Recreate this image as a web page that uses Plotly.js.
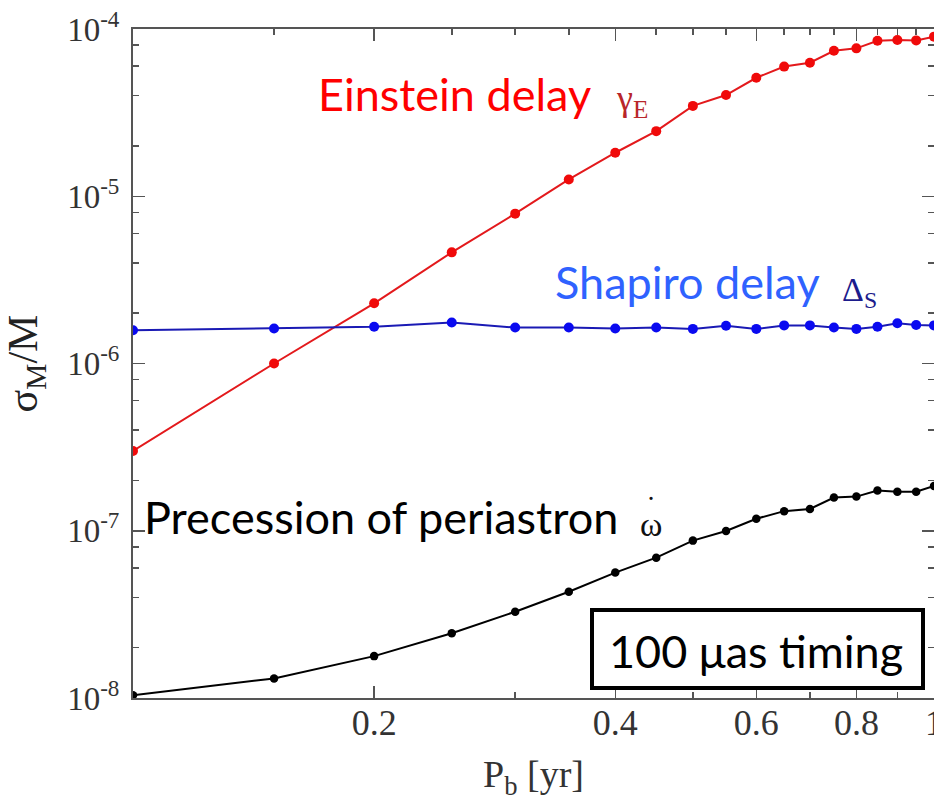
<!DOCTYPE html>
<html>
<head>
<meta charset="utf-8">
<script src="https://cdn.plot.ly/plotly-3.0.1.min.js"></script>
<style>html,body{margin:0;padding:0;background:#fff;}#chart{width:934px;height:801px;}</style>
</head>
<body>
<div id="chart"></div>
<script>
// ---- data ----
const periods = [0.10, 0.15, 0.20, 0.25, 0.30, 0.35, 0.40, 0.45, 0.50, 0.55, 0.60, 0.65, 0.70, 0.75, 0.80, 0.85, 0.90, 0.95, 1.00];
const einsteinDelay = [3.0e-7, 1.0e-6, 2.29e-6, 4.62e-6, 7.87e-6, 1.26e-5, 1.82e-5, 2.45e-5, 3.47e-5, 4.03e-5, 5.11e-5, 5.96e-5, 6.29e-5, 7.41e-5, 7.66e-5, 8.51e-5, 8.6e-5, 8.55e-5, 9.0e-5];
const shapiroDelay = [1.58e-6, 1.62e-6, 1.66e-6, 1.76e-6, 1.64e-6, 1.64e-6, 1.62e-6, 1.64e-6, 1.61e-6, 1.68e-6, 1.61e-6, 1.69e-6, 1.69e-6, 1.64e-6, 1.61e-6, 1.66e-6, 1.74e-6, 1.70e-6, 1.69e-6];
const periastron = [1.04e-8, 1.31e-8, 1.78e-8, 2.44e-8, 3.28e-8, 4.32e-8, 5.62e-8, 6.90e-8, 8.73e-8, 9.97e-8, 1.18e-7, 1.31e-7, 1.35e-7, 1.58e-7, 1.60e-7, 1.74e-7, 1.71e-7, 1.71e-7, 1.85e-7];

const xTickVals = [0.2, 0.4, 0.6, 0.8, 1];
const xTickText = ['0.2', '0.4', '0.6', '0.8', '1'];
const xMinorVals = [0.1, 0.3, 0.5, 0.7, 0.9];
const topTickVals = [0.2, 0.4, 0.6, 0.8];
const topMinorVals = [0.15, 0.25, 0.3, 0.35, 0.45, 0.5, 0.55, 0.65, 0.7, 0.75, 0.85, 0.9, 0.95];
const yTickVals = [1e-8, 1e-7, 1e-6, 1e-5, 1e-4];
const yTickText = ['10<sup>-8</sup>', '10<sup>-7</sup>', '10<sup>-6</sup>', '10<sup>-5</sup>', '10<sup>-4</sup>'];
const yMinorVals = [];
[-8, -7, -6, -5].forEach(e => [2, 4, 6, 8].forEach(m => yMinorVals.push(m * Math.pow(10, e))));

// ---- layout geometry ----
const W = 934, H = 801;
const L = 133, R = 0, T = 29, B = 103;
const pw = W - L - R, ph = H - T - B;
const px = v => (v - L) / pw;
const py = v => (H - B - v) / ph;

const axisColor = '#555';
const serif = 'Liberation Serif, Times New Roman, serif';
const sans = 'Lato, Carlito, Calibri, sans-serif';

const traces = [
  {x: periods, y: einsteinDelay, mode: 'lines+markers', name: 'Einstein delay',
   line: {color: '#e3191c', width: 2}, marker: {color: '#f00a0a', size: 10}},
  {x: periods, y: shapiroDelay, mode: 'lines+markers', name: 'Shapiro delay',
   line: {color: '#1a1ab4', width: 2}, marker: {color: '#0a0af0', size: 10}},
  {x: periods, y: periastron, mode: 'lines+markers', name: 'Precession of periastron',
   line: {color: '#000', width: 2}, marker: {color: '#000', size: 8.5}},
  {x: [], y: [], xaxis: 'x2', yaxis: 'y', showlegend: false, hoverinfo: 'skip'}
];

const layout = {
  width: W, height: H,
  margin: {l: L, r: R, t: T, b: B, pad: 0},
  paper_bgcolor: '#fff', plot_bgcolor: '#fff',
  showlegend: false,
  xaxis: {
    type: 'log', range: [-1, 0], autorange: false,
    tickmode: 'array', tickvals: xTickVals, ticktext: xTickText,
    ticks: 'inside', ticklen: 12, tickwidth: 1.5, tickcolor: axisColor,
    showline: true, linecolor: axisColor, linewidth: 2, mirror: true,
    showgrid: false, zeroline: false,
    minor: {tickmode: 'array', tickvals: xMinorVals, ticks: 'inside', ticklen: 6, tickwidth: 1.5, tickcolor: axisColor, showgrid: false},
    tickfont: {family: serif, size: 36, color: '#333'},
    ticklabelstandoff: -8,
    ticklabeloverflow: 'allow',
    title: {text: 'P<sub>b</sub> [yr]', font: {family: serif, size: 38, color: '#333'}, standoff: 25},
    automargin: false
  },
  xaxis2: {
    type: 'log', range: [-1, 0], autorange: false, overlaying: 'x', side: 'top', anchor: 'y',
    tickmode: 'array', tickvals: topTickVals, showticklabels: false,
    ticks: 'inside', ticklen: 12, tickwidth: 1.5, tickcolor: axisColor,
    showline: false, showgrid: false, zeroline: false,
    minor: {tickmode: 'array', tickvals: topMinorVals, ticks: 'inside', ticklen: 6, tickwidth: 1.5, tickcolor: axisColor, showgrid: false}
  },
  yaxis: {
    type: 'log', range: [-8, -4], autorange: false,
    tickmode: 'array', tickvals: yTickVals, ticktext: yTickText,
    ticks: 'inside', ticklen: 12, tickwidth: 1.5, tickcolor: axisColor,
    showline: true, linecolor: axisColor, linewidth: 2, mirror: 'ticks',
    showgrid: false, zeroline: false,
    minor: {tickmode: 'array', tickvals: yMinorVals, ticks: 'inside', ticklen: 6, tickwidth: 1.5, tickcolor: axisColor, showgrid: false},
    tickfont: {family: serif, size: 33, color: '#333'},
    ticklabelstandoff: 5,
    title: {text: 'σ<sub>M</sub>/M', font: {family: serif, size: 42, color: '#222'}, standoff: 18},
    automargin: false
  },
  shapes: [
    {type: 'rect', xref: 'paper', yref: 'paper', x0: px(592), x1: px(923), y0: py(688), y1: py(610),
     line: {color: '#000', width: 4}, fillcolor: '#fff', layer: 'above'}
  ],
  annotations: [
    {text: 'Einstein delay', xref: 'paper', yref: 'paper', x: px(316), y: py(94), xanchor: 'left', yanchor: 'middle',
     showarrow: false, font: {family: sans, size: 45, color: '#ff0000'}},
    {text: 'γ<sub>E</sub>', xref: 'paper', yref: 'paper', x: px(614), y: py(100), xanchor: 'left', yanchor: 'middle',
     showarrow: false, font: {family: serif, size: 36, color: '#b8262a'}},
    {text: 'Shapiro delay', xref: 'paper', yref: 'paper', x: px(553), y: py(282), xanchor: 'left', yanchor: 'middle',
     showarrow: false, font: {family: sans, size: 45, color: '#2f62ff'}},
    {text: 'Δ<sub>S</sub>', xref: 'paper', yref: 'paper', x: px(840), y: py(292), xanchor: 'left', yanchor: 'middle',
     showarrow: false, font: {family: serif, size: 34, color: '#1c1c8c'}},
    {text: 'Precession of periastron', xref: 'paper', yref: 'paper', x: px(142), y: py(517), xanchor: 'left', yanchor: 'middle',
     showarrow: false, font: {family: sans, size: 45, color: '#000'}},
    {text: 'ω', xref: 'paper', yref: 'paper', x: px(651), y: py(524), xanchor: 'center', yanchor: 'middle',
     showarrow: false, font: {family: serif, size: 34, color: '#111'}},
    {text: '˙', xref: 'paper', yref: 'paper', x: px(651), y: py(506), xanchor: 'center', yanchor: 'middle',
     showarrow: false, font: {family: serif, size: 30, color: '#111'}},
    {text: '100 μas timing', xref: 'paper', yref: 'paper', x: px(756), y: py(651), xanchor: 'center', yanchor: 'middle',
     showarrow: false, font: {family: sans, size: 45, color: '#000'}}
  ]
};

Plotly.newPlot('chart', traces, layout, {displayModeBar: false, staticPlot: true});
</script>
</body>
</html>
